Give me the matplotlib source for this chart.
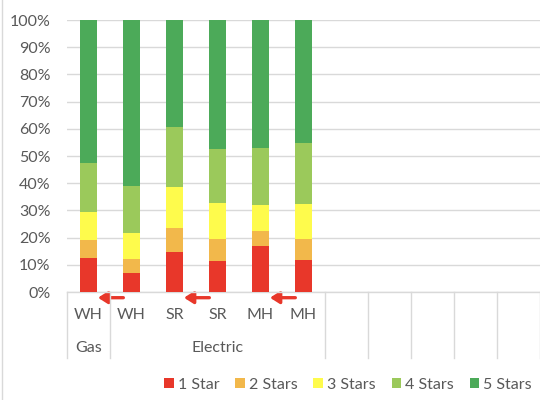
import matplotlib
matplotlib.use("Agg")
import matplotlib.pyplot as plt
from matplotlib.lines import Line2D
from matplotlib.patches import FancyArrowPatch
import matplotlib.transforms as mtransforms
import numpy as np

plt.rcParams['font.family'] = ['Lato', 'DejaVu Sans']

# ---- data ----
inner_labels = ["WH", "WH", "SR", "SR", "MH", "MH"]
groups = ["Gas", "Electric"]
group_sizes = [1, 5]
n_slots = 11
series_names = ["1 Star", "2 Stars", "3 Stars", "4 Stars", "5 Stars"]
one_star = [12.6, 7.0, 14.7, 11.5, 16.9, 11.7]
two_stars = [6.4, 5.1, 8.7, 8.0, 5.4, 7.7]
three_stars = [10.3, 9.6, 15.1, 13.1, 9.6, 12.9]
four_stars = [18.3, 17.3, 22.1, 19.9, 20.9, 22.5]
five_stars = [52.4, 61.0, 39.4, 47.5, 47.2, 45.2]
colors = ["#E8372A", "#F2B84B", "#FEFB4C", "#9BC95B", "#4CAA59"]
arrow_pairs = [(1, 0), (3, 2), (5, 4)]  # arrow from bar a toward bar b

series = [one_star, two_stars, three_stars, four_stars, five_stars]
FS = 11.5
TXT = "#595959"

fig = plt.figure(figsize=(5.4, 4.0), dpi=100)
ax = fig.add_axes([67/540, 1-292/400, 473/540, 272/400])

x = np.arange(len(inner_labels))
bottom = np.zeros(len(x))
handles = []
for vals, col, name in zip(series, colors, series_names):
    b = ax.bar(x, vals, bottom=bottom, width=0.4, color=col, label=name, zorder=3)
    handles.append(b)
    bottom += np.array(vals)

ax.set_xlim(-0.5, n_slots - 0.5)
ax.set_ylim(0, 100)
ax.set_yticks(np.arange(0, 101, 10))
ax.set_yticklabels([f"{v}%" for v in range(0, 101, 10)], fontsize=FS, color=TXT)
ax.tick_params(axis='y', length=0, pad=12)
ax.set_xticks([])
ax.grid(axis='y', color="#D9D9D9", linewidth=1, zorder=0)
for s in ["top", "right", "left"]:
    ax.spines[s].set_visible(False)
ax.spines["bottom"].set_color("#D9D9D9")
ax.spines["bottom"].set_linewidth(1)

trans = mtransforms.blended_transform_factory(ax.transData, ax.transAxes)
row1_y = (292-315)/272
row2_y = (292-348)/272
sep_bottom = (292-358)/272

for xi, lab in zip(x, inner_labels):
    ax.text(xi, row1_y, lab, transform=trans, ha='center', va='center',
            fontsize=FS, color=TXT)

start = 0
seps = [-0.5]
for g, n in zip(groups, group_sizes):
    center = start + (n - 1) / 2
    ax.text(center, row2_y, g, transform=trans, ha='center', va='center',
            fontsize=FS, color=TXT)
    start += n
    seps.append(start - 0.5)
for k in range(start, n_slots):
    seps.append(k + 0.5)
for sx in seps:
    ax.add_line(Line2D([sx, sx], [0, sep_bottom], transform=trans,
                       color="#D9D9D9", linewidth=1, clip_on=False))

arrow_y = (292-297.7)/272
for a, b in arrow_pairs:
    arr = FancyArrowPatch((a - 0.19, arrow_y), (b + 0.22, arrow_y), transform=trans,
                          arrowstyle='-|>,head_length=5.5,head_width=3.5',
                          color="#E8372A", linewidth=2.4, clip_on=False,
                          shrinkA=0, shrinkB=0)
    ax.add_patch(arr)

# chart border on the left
fig.add_artist(Line2D([2/540, 2/540], [0, 1], transform=fig.transFigure,
                      color="#D9D9D9", linewidth=1))

fig.legend(handles=handles, labels=series_names, loc='center',
           bbox_to_anchor=(348/540, 1-385/400), ncol=5, frameon=False,
           fontsize=FS, labelcolor=TXT, handlelength=0.6, handleheight=0.6,
           handletextpad=0.25, columnspacing=1.0)

fig.savefig("out.png", dpi=100)
